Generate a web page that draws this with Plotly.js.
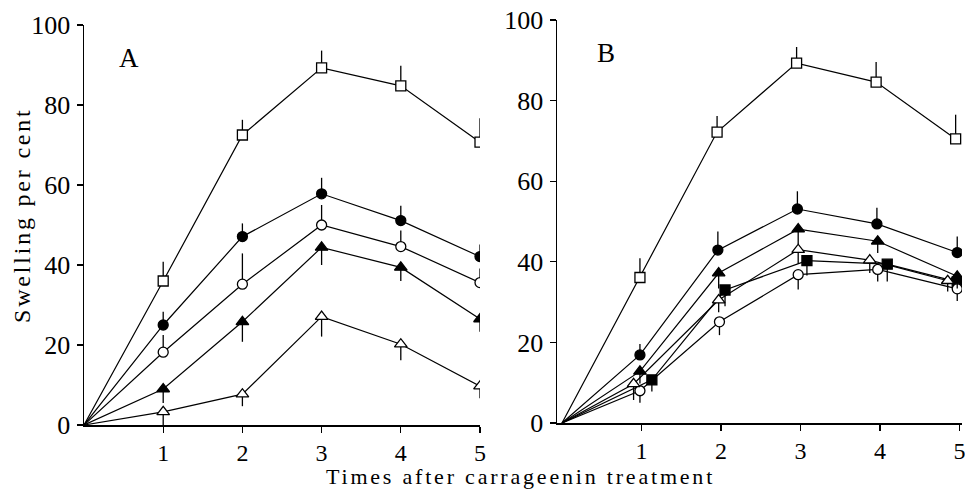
<!DOCTYPE html>
<html>
<head>
<meta charset="utf-8">
<script src="https://cdn.plot.ly/plotly-3.0.1.min.js"></script>
<style>
html,body{margin:0;padding:0;background:#fff;}
#chart{width:965px;height:491px;}
.annotation-text{letter-spacing:2.8px;}
</style>
</head>
<body>
<div id="chart"></div>
<script>
// ---- Panel A data (hours after carrageenin, swelling %) ----
const timesA = [0, 1, 2, 3, 4, 5];
const aOpenSquare   = [0, 36.0, 72.5, 89.3, 84.8, 70.7];
const aOpenSquareErr = [0, 4.8, 3.8, 4.3, 5.0, 6.0];      // upward
const aFilledCircle = [0, 25.0, 47.1, 57.8, 51.1, 42.1];
const aFilledCircleErr = [0, 3.3, 3.3, 4.0, 3.7, 3.0];    // upward
const aOpenCircle   = [0, 18.2, 35.2, 50.0, 44.6, 35.6];
const aOpenCircleErr = [0, 4.3, 7.7, 5.0, 4.0, 3.5];      // upward
const aFilledTri    = [0, 9.0, 25.8, 44.4, 39.4, 26.5];
const aFilledTriErr = [0, 3.5, 5.0, 4.4, 3.4, 3.2];       // downward
const aOpenTri      = [0, 3.3, 7.7, 27.1, 20.2, 9.7];
const aOpenTriErr   = [0, 3.3, 3.0, 5.0, 4.0, 3.0];       // downward

// ---- Panel B data ----
const bOpenSquareX = [0, 0.98, 1.95, 2.95, 3.95, 4.95];
const bOpenSquare  = [0, 36.1, 72.2, 89.3, 84.6, 70.5];
const bOpenSquareErr = [0, 4.8, 4.0, 4.0, 5.0, 6.0];      // upward
const bFilledCircleX = [0, 0.98, 1.96, 2.96, 3.96, 4.97];
const bFilledCircle  = [0, 16.9, 42.9, 53.1, 49.4, 42.3];
const bFilledCircleErr = [0, 2.7, 4.6, 4.4, 4.0, 4.0];    // upward
const bFilledTriX = [0, 0.98, 1.97, 2.97, 3.97, 4.97];
const bFilledTri  = [0, 12.8, 37.2, 48.1, 45.1, 36.4];
const bFilledTriErr = [0, 3.0, 3.8, 3.7, 2.9, 3.0];       // downward
const bOpenTriX = [0, 0.9, 1.97, 2.97, 3.87, 4.85];
const bOpenTri  = [0, 9.7, 30.5, 43.0, 40.4, 35.3];
const bOpenTriErr = [0, 4.0, 3.0, 3.5, 3.2, 2.7];         // downward
const bFilledSquareX = [0, 1.13, 2.05, 3.08, 4.09, 4.97];
const bFilledSquare  = [0, 10.7, 33.0, 40.3, 39.4, 35.0];
const bFilledSquareErr = [0, 2.9, 4.0, 3.7, 4.3, 3.0];    // downward
const bOpenCircleX = [0, 0.98, 1.98, 2.97, 3.97, 4.97];
const bOpenCircle  = [0, 8.0, 25.1, 36.8, 38.1, 33.3];
const bOpenCircleErr = [0, 3.0, 3.3, 3.7, 3.0, 3.0];      // downward

const xTicks = [1, 2, 3, 4, 5];
const yTicks = [0, 20, 40, 60, 80, 100];
const panelLabels = ['A', 'B'];
const xTitle = 'Times after carrageenin treatment';
const yTitle = 'Swelling per cent';

const FONT = 'Liberation Serif, Times New Roman, serif';
const markerOpacity = [0, 1, 1, 1, 1, 1];

function series(x, y, err, up, symbol, fill, xa, ya) {
  const zeros = err.map(() => 0);
  return {
    type: 'scatter', mode: 'lines+markers', x: x, y: y,
    xaxis: xa, yaxis: ya, showlegend: false,
    line: {color: '#000', width: 1.2},
    marker: {symbol: symbol, size: symbol.indexOf('triangle') >= 0 ? 11 : 10,
             color: fill, opacity: markerOpacity,
             line: {color: '#000', width: 1.3}},
    error_y: {type: 'data', symmetric: false,
              array: up ? err : zeros, arrayminus: up ? zeros : err,
              color: '#000', thickness: 1.3, width: 0}
  };
}

const data = [
  series(timesA, aOpenSquare, aOpenSquareErr, true, 'square', '#fff', 'x', 'y'),
  series(timesA, aFilledCircle, aFilledCircleErr, true, 'circle', '#000', 'x', 'y'),
  series(timesA, aOpenCircle, aOpenCircleErr, true, 'circle', '#fff', 'x', 'y'),
  series(timesA, aFilledTri, aFilledTriErr, false, 'triangle-up', '#000', 'x', 'y'),
  series(timesA, aOpenTri, aOpenTriErr, false, 'triangle-up', '#fff', 'x', 'y'),
  series(bOpenSquareX, bOpenSquare, bOpenSquareErr, true, 'square', '#fff', 'x2', 'y2'),
  series(bFilledCircleX, bFilledCircle, bFilledCircleErr, true, 'circle', '#000', 'x2', 'y2'),
  series(bFilledSquareX, bFilledSquare, bFilledSquareErr, false, 'square', '#000', 'x2', 'y2'),
  series(bOpenCircleX, bOpenCircle, bOpenCircleErr, false, 'circle', '#fff', 'x2', 'y2'),
  series(bOpenTriX, bOpenTri, bOpenTriErr, false, 'triangle-up', '#fff', 'x2', 'y2'),
  series(bFilledTriX, bFilledTri, bFilledTriErr, false, 'triangle-up', '#000', 'x2', 'y2')
];

const W = 965, H = 491;
function axX(d0, d1, r0, r1, anchor) {
  return {domain: [d0 / W, d1 / W], range: [r0, r1], anchor: anchor,
          showline: true, linecolor: '#000', linewidth: 1.5, mirror: false,
          showgrid: false, zeroline: false, ticks: 'outside', ticklen: 6,
          tickwidth: 1.3, tickcolor: '#000', tickmode: 'array', tickvals: xTicks,
          ticktext: xTicks.map(String), ticklabeloverflow: 'allow', ticklabelstandoff: 0,
          tickfont: {family: FONT, size: 24, color: '#000'}};
}
function axY(top, bottom, anchor) {
  return {domain: [(H - bottom) / H, (H - top) / H], range: [0, 100], anchor: anchor,
          showline: true, linecolor: '#000', linewidth: 1.5, mirror: false,
          showgrid: false, zeroline: false, ticks: 'outside', ticklen: 6,
          tickwidth: 1.3, tickcolor: '#000', tickmode: 'array', tickvals: yTicks,
          ticktext: yTicks.map(String), ticklabelstandoff: 1, ticklabeloverflow: 'allow',
          tickfont: {family: FONT, size: 26, color: '#000'}};
}

const layout = {
  width: W, height: H, margin: {l: 0, r: 0, t: 0, b: 0},
  paper_bgcolor: '#fff', plot_bgcolor: 'rgba(0,0,0,0)',
  font: {family: FONT, color: '#000'},
  xaxis: axX(84, 480, 0, 5.0, 'y'),
  yaxis: axY(25, 425, 'x'),
  xaxis2: axX(557, 962, -0.063, 5.03, 'y2'),
  yaxis2: axY(20, 423, 'x2'),
  annotations: [
    {text: panelLabels[0], xref: 'paper', yref: 'paper', x: 130 / W, y: (H - 58) / H,
     xanchor: 'center', yanchor: 'middle', showarrow: false, font: {family: FONT, size: 27, color: '#000'}},
    {text: panelLabels[1], xref: 'paper', yref: 'paper', x: 607 / W, y: (H - 53) / H,
     xanchor: 'center', yanchor: 'middle', showarrow: false, font: {family: FONT, size: 27, color: '#000'}},
    {text: xTitle, xref: 'paper', yref: 'paper', x: 520 / W, y: (H - 476) / H,
     xanchor: 'center', yanchor: 'middle', showarrow: false, font: {family: FONT, size: 22, color: '#000'}},
    {text: yTitle, xref: 'paper', yref: 'paper', x: 22 / W, y: (H - 215) / H, textangle: -90,
     xanchor: 'center', yanchor: 'middle', showarrow: false, font: {family: FONT, size: 24, color: '#000'}}
  ]
};

Plotly.newPlot('chart', data, layout, {staticPlot: true, displayModeBar: false});
</script>
</body>
</html>
